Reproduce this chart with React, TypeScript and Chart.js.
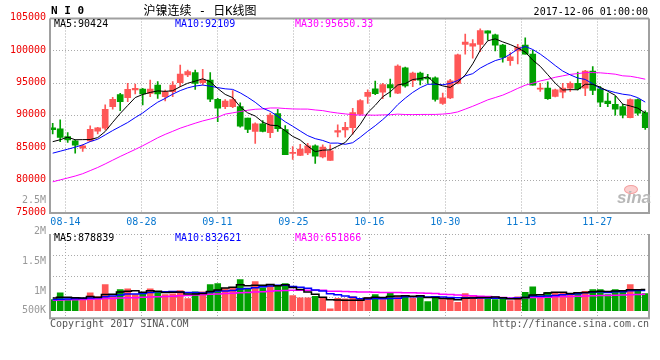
import React, { useEffect, useRef } from 'react';
import { Chart, registerables } from 'chart.js';

Chart.register(...registerables);

// ---------- data ----------
const dates = [
  '08-10', '08-11', '08-14', '08-15', '08-16', '08-17', '08-18', '08-21', '08-22', '08-23',
  '08-24', '08-25', '08-28', '08-29', '08-30', '08-31', '09-01', '09-04', '09-05', '09-06',
  '09-07', '09-08', '09-11', '09-12', '09-13', '09-14', '09-15', '09-18', '09-19', '09-20',
  '09-21', '09-22', '09-25', '09-26', '09-27', '09-28', '09-29', '10-09', '10-10', '10-11',
  '10-12', '10-13', '10-16', '10-17', '10-18', '10-19', '10-20', '10-23', '10-24', '10-25',
  '10-26', '10-27', '10-30', '10-31', '11-01', '11-02', '11-03', '11-06', '11-07', '11-08',
  '11-09', '11-10', '11-13', '11-14', '11-15', '11-16', '11-17', '11-20', '11-21', '11-22',
  '11-23', '11-24', '11-27', '11-28', '11-29', '11-30', '12-01', '12-04', '12-05', '12-06',
];

const opens = [
  88150, 87970, 86800, 86120, 85000, 86120, 87610, 88070, 91410, 93250,
  92800, 93970, 94130, 93460, 94740, 92950, 93720, 95100, 96280, 96640,
  95100, 95510, 92540, 91400, 91400, 91400, 89650, 87600, 88750, 87400,
  90350, 87850, 84200, 83900, 84250, 85350, 83650, 83100, 87450, 87800,
  88150, 90250, 93000, 94150, 93650, 94800, 93500, 97400, 95400, 96600,
  95900, 95850, 91900, 92750, 95000, 101000, 100750, 101000, 103100, 102500,
  100900, 98500, 100000, 100900, 99500, 94100, 94250, 93000, 93650, 94250,
  95000, 94250, 96900, 94150, 92250, 91750, 91400, 89700, 92500, 90500,
];

const highs = [
  88850, 89360, 87400, 86280, 85510, 88430, 88230, 91670, 92850, 93460,
  95000, 94900, 94230, 95510, 95260, 93970, 95260, 97820, 97050, 97050,
  97150, 96640, 92690, 92500, 93900, 92000, 89650, 88900, 89250, 90400,
  91000, 88500, 85250, 85600, 85750, 85500, 85500, 85500, 88600, 89000,
  91150, 92500, 94000, 95350, 95000, 95650, 97850, 97500, 96750, 96750,
  96400, 96000, 93500, 95600, 99500, 102600, 101750, 103400, 103100, 102600,
  101000, 99750, 101000, 102000, 100100, 95000, 95250, 94100, 95000, 95250,
  96750, 97000, 97600, 94500, 93500, 93000, 91750, 92600, 92600, 90750,
];

const lows = [
  87200, 86020, 85870, 84230, 84490, 86020, 87200, 87820, 91000, 90790,
  92180, 93360, 91670, 92950, 92690, 92280, 92950, 94490, 96030, 94080,
  94740, 92180, 89100, 91100, 91250, 88250, 87400, 85750, 87500, 86600,
  87600, 84000, 83250, 83850, 84000, 82650, 83500, 83100, 86750, 86700,
  87150, 90100, 91900, 93250, 92650, 92900, 93400, 94400, 94500, 94750,
  95000, 92250, 91750, 92650, 94900, 99500, 98900, 99900, 101650, 100000,
  98250, 97750, 98000, 99500, 94700, 93750, 92500, 92900, 92750, 93750,
  94000, 93100, 93250, 91400, 91400, 90100, 89650, 89650, 90100, 87900,
];

const closes = [
  87850, 86640, 86280, 85460, 85360, 87920, 88120, 91000, 92540, 92180,
  94080, 94230, 93360, 94130, 93360, 93720, 94740, 96440, 96800, 95000,
  95510, 92540, 91150, 92250, 92500, 88400, 87900, 88750, 87600, 90100,
  88000, 84000, 84350, 84850, 85350, 83750, 85150, 84600, 87700, 88200,
  90500, 92350, 93600, 93400, 94800, 94300, 97650, 94600, 96600, 95500,
  95700, 92500, 92750, 95400, 99400, 101350, 101150, 103150, 102750, 100900,
  99000, 99100, 100600, 99500, 94700, 94250, 92650, 94000, 94250, 95000,
  94150, 96900, 93900, 92100, 91850, 91000, 90100, 92500, 90400, 88150,
];

const volumes = [
  458000, 738000, 488000, 529000, 429000, 738000, 571000, 1083000, 596000, 875000,
  904000, 667000, 763000, 904000, 779000, 667000, 696000, 833000, 500000, 779000,
  779000, 1083000, 1125000, 917000, 946000, 1292000, 904000, 1208000, 946000, 1083000,
  1042000, 1125000, 625000, 529000, 529000, 596000, 513000, 71000, 513000, 488000,
  583000, 488000, 554000, 667000, 458000, 750000, 596000, 638000, 529000, 571000,
  375000, 596000, 458000, 488000, 346000, 708000, 625000, 571000, 488000, 458000,
  529000, 417000, 571000, 763000, 988000, 571000, 763000, 738000, 763000, 708000,
  763000, 804000, 875000, 875000, 667000, 875000, 833000, 1083000, 875000, 708000,
];

// moving-average values before enough visible history exists
const ma5Head = [86000, 86300, 86700, 86300];
const ma10Head = [84230, 84530, 84840, 85150, 85510, 86020, 86380, 87050, 87720];
const ma30Head = [
  79810, 80110, 80400, 80700, 81060, 81540, 82020, 82570, 83150, 83720,
  84260, 84800, 85370, 85980, 86600, 87130, 87600, 88080, 88470, 88850,
  89200, 89490, 89780, 90250, 90450, 90650, 90850, 91000, 91050,
];
const volMa5Head = [520000, 560000, 560000, 540000];
const volMa10Head = [460000, 470000, 480000, 490000, 500000, 520000, 540000, 580000, 610000];
const volMa30Head = [
  430000, 438000, 447000, 455000, 466000, 478000, 488000, 500000, 509000, 522000,
  531000, 540000, 552000, 563000, 576000, 590000, 603000, 618000, 633000, 649000,
  664000, 680000, 694000, 709000, 723000, 741000, 756000, 770000, 786000,
];

const tickDates = ['08-14', '08-28', '09-11', '09-25', '10-16', '10-30', '11-13', '11-27'];
const priceTicks = [75000, 80000, 85000, 90000, 95000, 100000, 105000];
const volumeLabels = ['2.5M', '2M', '1.5M', '1M', '500K'];

const titleCode = 'N I 0';
const titleText = '沪镍连续 - 日K线图';
const timeText = '2017-12-06 01:00:00';
const priceLegend = ['MA5:90424', 'MA10:92109', 'MA30:95650.33'];
const volumeLegend = ['MA5:878839', 'MA10:832621', 'MA30:651866'];

// ---------- styling ----------
const RED = '#ff5757';
const GREEN = '#00a000';
const GRID = '#aaaaaa';
const FRAME = '#a0a0a0';
const MA_COLORS = ['#000000', '#0000ff', '#ff00ff'];
const MONO = '"DejaVu Sans Mono", "Liberation Mono", monospace';
const X_MIN = -0.36;
const X_MAX = 79.5;
const VOL_MIN = -321000;
const VOL_MAX = 3192000;

function movingAverage(values: number[], n: number, head: number[]): number[] {
  return values.map((_, i) => {
    if (i < head.length) return head[i];
    let s = 0;
    for (let k = i - n + 1; k <= i; k++) s += values[k];
    return s / n;
  });
}

const tickIndex = tickDates.map((d) => dates.indexOf(d));
const gridPos = (idx: number) => idx * 1.013 - 0.33;

const framePlugin = {
  id: 'frame',
  afterDatasetsDraw(chart: any, _args: any, opts: any) {
    const { ctx, chartArea } = chart;
    const { left, top, right, bottom } = chartArea;
    ctx.save();
    ctx.strokeStyle = FRAME;
    ctx.lineWidth = 2;
    ctx.setLineDash([]);
    ctx.beginPath();
    if (opts && opts.top) {
      ctx.moveTo(left, top);
      ctx.lineTo(right, top);
    }
    ctx.moveTo(left, top);
    ctx.lineTo(left, bottom);
    ctx.moveTo(left - 1, bottom);
    ctx.lineTo(right + 1, bottom);
    ctx.moveTo(right, top);
    ctx.lineTo(right, bottom);
    ctx.stroke();
    ctx.restore();
  },
};

export default function App() {
  const mainRef = useRef<HTMLCanvasElement | null>(null);
  const volRef = useRef<HTMLCanvasElement | null>(null);

  useEffect(() => {
    const up = opens.map((o, i) => closes[i] >= o);
    const colors = up.map((u) => (u ? RED : GREEN));
    const ma5 = movingAverage(closes, 5, ma5Head);
    const ma10 = movingAverage(closes, 10, ma10Head);
    const ma30 = movingAverage(closes, 30, ma30Head);
    const vma5 = movingAverage(volumes, 5, volMa5Head);
    const vma10 = movingAverage(volumes, 10, volMa10Head);
    const vma30 = movingAverage(volumes, 30, volMa30Head);
    const pts = (arr: number[]) => arr.map((v, i) => ({ x: i, y: v }));

    const lineDs = (arr: number[], color: string, width: number, stepped: any) => ({
      type: 'line' as const,
      data: pts(arr),
      borderColor: color,
      borderWidth: width,
      pointRadius: 0,
      tension: 0,
      stepped,
      fill: false,
    });

    const xGrid = {
      color: GRID,
      lineWidth: 1,
      drawTicks: false,
      offset: false,
    };

    const mainChart = new Chart(mainRef.current as HTMLCanvasElement, {
      type: 'line',
      data: {
        datasets: [
          lineDs(ma5, MA_COLORS[0], 1, false),
          lineDs(ma10, MA_COLORS[1], 1, false),
          lineDs(ma30, MA_COLORS[2], 1, false),
          {
            type: 'bar',
            data: opens.map((o, i) => ({ x: i, y: [o, closes[i]] })),
            backgroundColor: colors,
            borderWidth: 0,
            barThickness: 6,
            grouped: false,
            minBarLength: 1,
          } as any,
          {
            type: 'bar',
            data: lows.map((l, i) => ({ x: i, y: [l, highs[i]] })),
            backgroundColor: colors,
            borderWidth: 0,
            barThickness: 1,
            grouped: false,
            minBarLength: 1,
          } as any,
        ],
      },
      options: {
        animation: false,
        responsive: false,
        maintainAspectRatio: false,
        layout: { padding: { top: 18.5, right: 11, left: 0, bottom: 0 } },
        plugins: {
          legend: { display: false },
          tooltip: { enabled: false },
          frame: { top: true },
        } as any,
        scales: {
          x: {
            type: 'linear',
            min: X_MIN,
            max: X_MAX,
            offset: false,
            afterBuildTicks: (s: any) => {
              s.ticks = tickIndex.map((i) => ({ value: gridPos(i) }));
            },
            afterFit: (s: any) => {
              s.height = 19;
            },
            ticks: {
              autoSkip: false,
              maxRotation: 0,
              minRotation: 0,
              padding: 3,
              color: '#0a78d0',
              font: { family: MONO, size: 10 },
              callback: (_v: any, index: number) => tickDates[index],
            },
            grid: xGrid,
            border: { display: false, dash: [1, 2] },
          },
          y: {
            type: 'linear',
            min: priceTicks[0],
            max: priceTicks[priceTicks.length - 1],
            afterBuildTicks: (s: any) => {
              s.ticks = priceTicks.map((v) => ({ value: v }));
            },
            afterFit: (s: any) => {
              s.width = 50;
            },
            ticks: {
              padding: 4,
              labelOffset: -1,
              color: '#ee0000',
              font: { family: MONO, size: 10 },
              callback: (v: any) => String(v),
            },
            grid: { color: GRID, lineWidth: 1, drawTicks: false },
            border: { display: false, dash: [1, 2] },
          },
        },
      } as any,
      plugins: [framePlugin],
    });

    const volChart = new Chart(volRef.current as HTMLCanvasElement, {
      type: 'line',
      data: {
        datasets: [
          lineDs(vma5, MA_COLORS[0], 1.5, 'middle'),
          lineDs(vma10, MA_COLORS[1], 1.5, 'middle'),
          lineDs(vma30, MA_COLORS[2], 1.5, 'middle'),
          {
            type: 'bar',
            data: volumes.map((v, i) => ({ x: i, y: v })),
            backgroundColor: colors,
            borderWidth: 0,
            barThickness: 6,
            grouped: false,
          } as any,
        ],
      },
      options: {
        animation: false,
        responsive: false,
        maintainAspectRatio: false,
        layout: { padding: { top: 42, right: 11, left: 0, bottom: 11.7 } },
        plugins: {
          legend: { display: false },
          tooltip: { enabled: false },
          frame: { top: false },
        } as any,
        scales: {
          x: {
            type: 'linear',
            min: X_MIN,
            max: X_MAX,
            offset: false,
            afterBuildTicks: (s: any) => {
              s.ticks = tickIndex.map((i) => ({ value: gridPos(i) }));
            },
            afterFit: (s: any) => {
              s.height = 0;
            },
            ticks: { display: false },
            grid: xGrid,
            border: { display: false, dash: [1, 2] },
          },
          y: {
            type: 'linear',
            min: VOL_MIN,
            max: VOL_MAX,
            afterBuildTicks: (s: any) => {
              s.ticks = [0, 1, 2, 3, 4].map((k) => ({
                value: VOL_MIN + (k * (VOL_MAX - VOL_MIN)) / 4,
              }));
            },
            afterFit: (s: any) => {
              s.width = 50;
            },
            ticks: { display: false },
            grid: { color: GRID, lineWidth: 1, drawTicks: false },
            border: { display: false, dash: [1, 2] },
          },
        },
      } as any,
      plugins: [framePlugin],
    });

    return () => {
      mainChart.destroy();
      volChart.destroy();
    };
  }, []);

  const text = (content: string, style: React.CSSProperties, key?: string) => (
    <div
      key={key}
      style={{
        position: 'absolute',
        whiteSpace: 'pre',
        fontFamily: MONO,
        fontSize: 10,
        lineHeight: '12px',
        color: '#000',
        ...style,
      }}
    >
      {content}
    </div>
  );

  const volLabelCenters = [200, 230.7, 260.7, 290.7, 310];
  const legendLeft = [54, 175, 295];

  return (
    <div
      style={{
        position: 'fixed',
        left: 0,
        top: 0,
        width: 660,
        height: 360,
        background: '#fff',
        overflow: 'hidden',
      }}
    >
      <canvas
        ref={mainRef}
        width={660}
        height={232}
        style={{ position: 'absolute', left: 0, top: 0, width: 660, height: 232 }}
      />
      <canvas
        ref={volRef}
        width={660}
        height={138}
        style={{ position: 'absolute', left: 0, top: 192, width: 660, height: 138 }}
      />
      {text(titleCode, { left: 51, top: 5, fontWeight: 'bold', fontSize: 11 })}
      {text(titleText, {
        left: 200,
        top: 4,
        fontSize: 12,
        lineHeight: '14px',
        transform: 'translateX(-50%)',
        fontFamily: '"DejaVu Sans Mono", "Noto Sans CJK SC", monospace',
      })}
      {text(timeText, { right: 12, top: 6 })}
      {priceLegend.map((t, i) =>
        text(t, { left: legendLeft[i], top: 17.5, color: MA_COLORS[i] }, 'p' + i)
      )}
      {volumeLegend.map((t, i) =>
        text(t, { left: legendLeft[i], top: 232.3, color: MA_COLORS[i] }, 'v' + i)
      )}
      {volumeLabels.map((t, i) =>
        text(t, { right: 614, top: volLabelCenters[i] - 6, color: '#999999' }, 'l' + i)
      )}
      <div
        style={{
          position: 'absolute',
          left: 624,
          top: 185,
          width: 12,
          height: 7,
          borderRadius: '50%',
          background: '#fbd0d0',
          border: '1px solid #f4a0a0',
        }}
      />
      {text('sina', {
        left: 617,
        top: 189,
        fontFamily: '"Liberation Sans", Arial, sans-serif',
        fontSize: 17,
        lineHeight: '18px',
        fontWeight: 'bold',
        fontStyle: 'italic',
        color: '#b8b8b8',
      })}
      {text('Copyright 2017 SINA.COM', { left: 50, top: 318, color: '#555555' })}
      {text('http://finance.sina.com.cn', { right: 11, top: 318, color: '#555555' })}
    </div>
  );
}
